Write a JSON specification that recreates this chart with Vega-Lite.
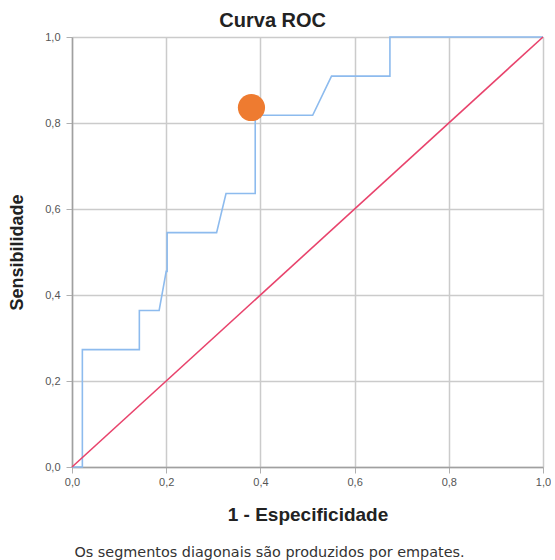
{
  "$schema": "https://vega.github.io/schema/vega-lite/v6.json",
  "padding": {"left": 8, "top": 11, "right": 0, "bottom": 0},
  "background": "white",
  "title": {"text": "Curva ROC", "font": "Liberation Sans", "fontSize": 20, "fontWeight": "bold", "color": "#222222", "anchor": "middle", "dx": -7, "offset": 0},
  "config": {
    "view": {"stroke": null},
    "axis": {
      "labelFont": "Liberation Sans", "labelFontSize": 11, "labelColor": "#555555",
      "titleFont": "Liberation Sans", "titleFontWeight": "bold", "titleColor": "#222222",
      "gridColor": "#CBCBCB", "gridWidth": 1.5, "domainColor": "#A0A0A0", "domainWidth": 1.5,
      "tickColor": "#B0B0B0", "tickSize": 6, "tickWidth": 1, "labelFlush": false
    }
  },
  "vconcat": [
    {
      "width": 471,
      "height": 430,
      "title": {"text": "Os segmentos diagonais são produzidos por empates.", "orient": "bottom", "font": "DejaVu Sans", "fontSize": 14.4, "fontWeight": "normal", "color": "#333333", "anchor": "middle", "frame": "group", "dx": -38, "offset": 22},
      "layer": [
        {
          "data": {"values": [
            {"i": 0, "fpr": 0.0, "tpr": 0.0},
            {"i": 1, "fpr": 0.022, "tpr": 0.0},
            {"i": 2, "fpr": 0.022, "tpr": 0.273},
            {"i": 3, "fpr": 0.143, "tpr": 0.273},
            {"i": 4, "fpr": 0.143, "tpr": 0.364},
            {"i": 5, "fpr": 0.185, "tpr": 0.364},
            {"i": 6, "fpr": 0.2, "tpr": 0.455},
            {"i": 7, "fpr": 0.202, "tpr": 0.455},
            {"i": 8, "fpr": 0.202, "tpr": 0.545},
            {"i": 9, "fpr": 0.307, "tpr": 0.545},
            {"i": 10, "fpr": 0.327, "tpr": 0.636},
            {"i": 11, "fpr": 0.389, "tpr": 0.636},
            {"i": 12, "fpr": 0.389, "tpr": 0.818},
            {"i": 13, "fpr": 0.511, "tpr": 0.818},
            {"i": 14, "fpr": 0.551, "tpr": 0.909},
            {"i": 15, "fpr": 0.675, "tpr": 0.909},
            {"i": 16, "fpr": 0.675, "tpr": 1.0},
            {"i": 17, "fpr": 1.0, "tpr": 1.0}
          ]},
          "mark": {"type": "line", "color": "#8DBBEE", "strokeWidth": 1.6},
          "encoding": {
            "x": {"field": "fpr", "type": "quantitative", "scale": {"domain": [0, 1], "nice": false},
              "axis": {"title": "1 - Especificidade", "titleFontSize": 19, "values": [0, 0.2, 0.4, 0.6, 0.8, 1], "labelExpr": "replace(format(datum.value, '.1f'), '.', ',')", "labelPadding": 3, "titlePadding": 18}},
            "y": {"field": "tpr", "type": "quantitative", "scale": {"domain": [0, 1], "nice": false},
              "axis": {"title": "Sensibilidade", "titleFontSize": 18, "values": [0, 0.2, 0.4, 0.6, 0.8, 1], "labelExpr": "replace(format(datum.value, '.1f'), '.', ',')", "labelPadding": 6, "titlePadding": 18}},
            "order": {"field": "i", "type": "quantitative"}
          }
        },
        {
          "data": {"values": [{"i": 0, "fpr": 0, "tpr": 0}, {"i": 1, "fpr": 1, "tpr": 1}]},
          "mark": {"type": "line", "color": "#E8436C", "strokeWidth": 1.6},
          "encoding": {
            "x": {"field": "fpr", "type": "quantitative"},
            "y": {"field": "tpr", "type": "quantitative"},
            "order": {"field": "i", "type": "quantitative"}
          }
        },
        {
          "data": {"values": [{"fpr": 0.381, "tpr": 0.836}]},
          "mark": {"type": "point", "filled": true, "color": "#EE7B30", "opacity": 1, "size": 740},
          "encoding": {
            "x": {"field": "fpr", "type": "quantitative"},
            "y": {"field": "tpr", "type": "quantitative"}
          }
        }
      ]
    }
  ]
}
